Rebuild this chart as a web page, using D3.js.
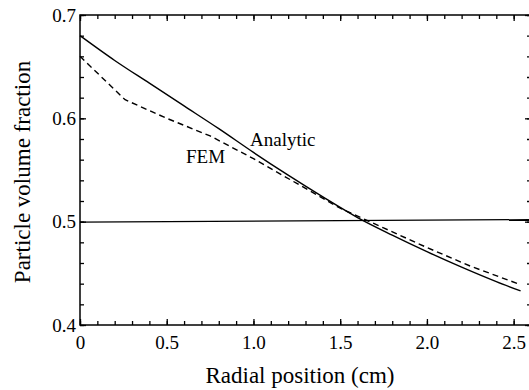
<!DOCTYPE html>
<html>
<head>
<meta charset="utf-8">
<script src="https://cdn.jsdelivr.net/npm/d3@7"></script>
<style>
  body { margin: 0; background: #fff; }
  svg text { font-family: "Liberation Serif", "Times New Roman", serif !important; }
</style>
</head>
<body>
<div id="chart"></div>
<script>
// values
var radius = [0, 0.2, 0.4, 0.6, 0.8, 1.0, 1.2, 1.4, 1.6, 1.8, 2.0, 2.2, 2.4, 2.54];
var analytic = [0.680, 0.656, 0.634, 0.612, 0.590, 0.567, 0.545, 0.524, 0.504, 0.487, 0.471, 0.456, 0.442, 0.433];

var femRadius = [0, 0.26, 0.5, 0.75, 1.0, 1.25, 1.5, 1.75, 2.0, 2.25, 2.54];
var fem = [0.660, 0.618, 0.600, 0.583, 0.561, 0.537, 0.513, 0.494, 0.475, 0.457, 0.439];

var flatRadius = [0, 2.6];
var flat = [0.4995, 0.502];

var xTicks = [0, 0.5, 1.0, 1.5, 2.0, 2.5];
var yTicks = [0.4, 0.5, 0.6, 0.7];

var width = 529, height = 390;
var svg = d3.select('#chart').append('svg')
    .attr('width', width)
    .attr('height', height);

var x = d3.scaleLinear().domain([0, 2.6]).range([80, 531]);
var y = d3.scaleLinear().domain([0.4, 0.7]).range([325, 15]);

var minorX = d3.range(0, 2.61, 0.1);
var minorY = d3.range(0.4, 0.701, 0.02);

function fmtX(d) { return d === 0 ? '0' : d3.format('.1f')(d); }

// bottom axis
svg.append('g')
    .attr('transform', `translate(0,${y(0.4)})`)
    .call(d3.axisBottom(x).tickValues(xTicks).tickFormat(fmtX).tickSize(-6).tickPadding(11))
    .call(g => g.select('.domain').remove());
svg.append('g')
    .attr('transform', `translate(0,${y(0.4)})`)
    .call(d3.axisBottom(x).tickValues(minorX).tickFormat('').tickSize(-4))
    .call(g => g.select('.domain').remove());

// top axis
svg.append('g')
    .attr('transform', `translate(0,${y(0.7)})`)
    .call(d3.axisTop(x).tickValues(xTicks).tickFormat('').tickSize(-6))
    .call(g => g.select('.domain').remove());
svg.append('g')
    .attr('transform', `translate(0,${y(0.7)})`)
    .call(d3.axisTop(x).tickValues(minorX).tickFormat('').tickSize(-4))
    .call(g => g.select('.domain').remove());

// left axis
svg.append('g')
    .attr('transform', `translate(${x(0)},0)`)
    .call(d3.axisLeft(y).tickValues(yTicks).tickFormat(d3.format('.1f')).tickSize(-6).tickPadding(4))
    .call(g => g.select('.domain').remove());
svg.append('g')
    .attr('transform', `translate(${x(0)},0)`)
    .call(d3.axisLeft(y).tickValues(minorY).tickFormat('').tickSize(-4))
    .call(g => g.select('.domain').remove());

// right axis
svg.append('g')
    .attr('transform', `translate(${x(2.6)},0)`)
    .call(d3.axisRight(y).tickValues(yTicks).tickFormat('').tickSize(-6))
    .call(g => g.select('.domain').remove());
svg.append('g')
    .attr('transform', `translate(${x(2.6)},0)`)
    .call(d3.axisRight(y).tickValues(minorY).tickFormat('').tickSize(-4))
    .call(g => g.select('.domain').remove());

svg.selectAll('.tick line').attr('stroke', '#000').attr('stroke-width', 1.3);
svg.selectAll('.tick text')
    .attr('font-size', 19)
    .attr('fill', '#000');

// frame
svg.append('rect')
    .attr('x', x(0)).attr('y', y(0.7))
    .attr('width', x(2.6) - x(0)).attr('height', y(0.4) - y(0.7))
    .attr('fill', 'none').attr('stroke', '#000').attr('stroke-width', 1.5);

var line = d3.line().x(d => x(d[0])).y(d => y(d[1]));

svg.append('path')
    .datum(flatRadius.map((r, i) => [r, flat[i]]))
    .attr('d', line).attr('fill', 'none').attr('stroke', '#000').attr('stroke-width', 1.2);

svg.append('path')
    .datum(radius.map((r, i) => [r, analytic[i]]))
    .attr('d', d3.line().x(d => x(d[0])).y(d => y(d[1])).curve(d3.curveMonotoneX))
    .attr('fill', 'none').attr('stroke', '#000').attr('stroke-width', 1.4);

svg.append('path')
    .datum(femRadius.map((r, i) => [r, fem[i]]))
    .attr('d', line).attr('fill', 'none')
    .attr('stroke', '#000').attr('stroke-width', 1.4).attr('stroke-dasharray', '6,4');

// curve labels
svg.append('text').attr('x', 250).attr('y', 146).attr('font-size', 19).text('Analytic');
svg.append('text').attr('x', 186).attr('y', 163).attr('font-size', 19).text('FEM');

// axis titles
svg.append('text')
    .attr('x', 300).attr('y', 383)
    .attr('text-anchor', 'middle')
    .attr('font-size', 23)
    .text('Radial position (cm)');

svg.append('text')
    .attr('transform', `translate(30,172) rotate(-90)`)
    .attr('text-anchor', 'middle')
    .attr('font-size', 23)
    .text('Particle volume fraction');
</script>
</body>
</html>
